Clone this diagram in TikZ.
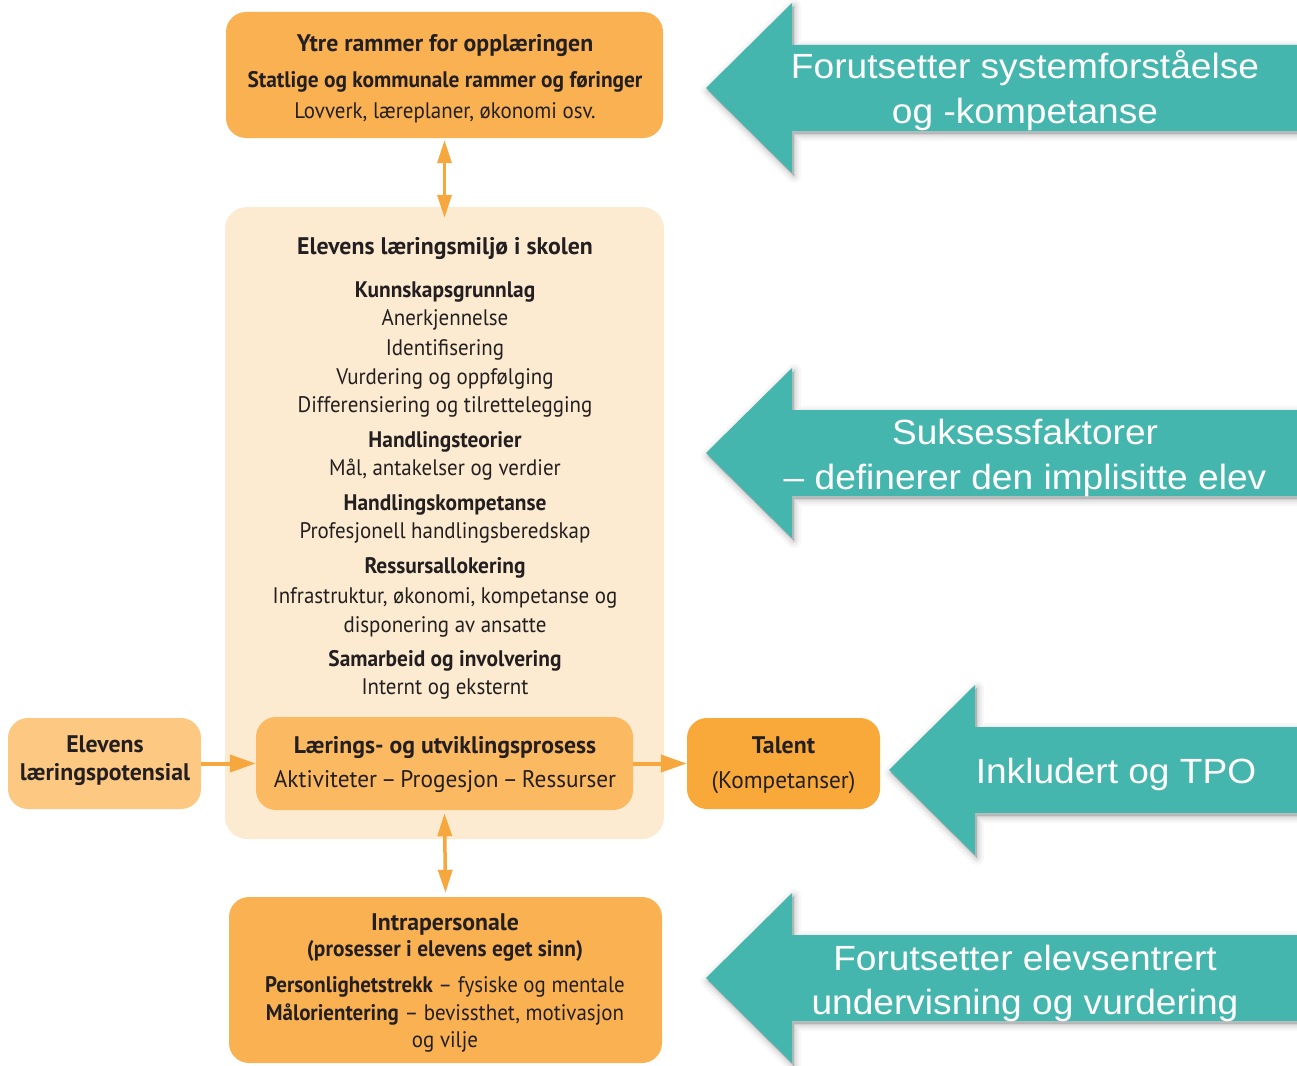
\documentclass[tikz,border=0pt]{standalone}
\usepackage{fontspec}
\setmainfont{Liberation Sans}
\newfontfamily\tealfont[FakeStretch=1.06]{Liberation Sans}
\newfontfamily\fa[FakeStretch=0.93]{PT Sans}
\newfontfamily\fb[FakeStretch=0.95]{PT Sans}
\newfontfamily\fc[FakeStretch=0.99]{PT Sans}
\newfontfamily\fd[FakeStretch=0.97]{PT Sans}
\usetikzlibrary{arrows.meta}
\definecolor{ortop}{HTML}{FAB152}
\definecolor{peach}{HTML}{FDEBD1}
\definecolor{orleft}{HTML}{FCC882}
\definecolor{orinner}{HTML}{FBB961}
\definecolor{ortalent}{HTML}{F9A93A}
\definecolor{orline}{HTML}{F6A73E}
\definecolor{tealc}{HTML}{45B6AE}
\definecolor{ink}{HTML}{231F20}
\tikzset{
  box/.style={rounded corners=20pt, inner sep=0pt, draw=none},
  ln/.style={anchor=base, inner sep=0pt, text=ink, font=\fa\fontsize{22.5}{27}\selectfont},
  hd/.style={anchor=base, inner sep=0pt, text=ink, font=\fb\bfseries\fontsize{22.5}{27}\selectfont},
  ttl/.style={anchor=base, inner sep=0pt, text=ink, font=\fc\bfseries\fontsize{24}{29}\selectfont},
  mid/.style={anchor=base, inner sep=0pt, text=ink, font=\fc\bfseries\fontsize{24}{29}\selectfont},
  midr/.style={anchor=base, inner sep=0pt, text=ink, font=\fd\fontsize{24}{29}\selectfont},
  wt/.style={anchor=base, inner sep=0pt, text=white, font=\tealfont\fontsize{35}{42}\selectfont},
  conn/.style={draw=orline, line width=4pt},
  vconn/.style={draw=orline, line width=3.5pt},
  pics/tealarrow/.style={code={
    \foreach \lw/\op in {14/0.03, 9/0.04, 5/0.05, 1/0.06}{
      \filldraw[black, opacity=\op, line width=\lw pt, line join=round, shift={(2,3)}]
        (0,0) -- (86,-85) -- (86,-43) -- (700,-43) -- (700,43) -- (86,43) -- (86,85) -- cycle;
    }
    \fill[tealc] (0,0) -- (86,-85) -- (86,-43) -- (700,-43) -- (700,43) -- (86,43) -- (86,85) -- cycle;
  }}
}
\begin{document}
\begin{tikzpicture}[x=1pt,y=-1pt]
\useasboundingbox[fill=white] (0,0) rectangle (1297,1065);

% boxes
\node[box, fill=ortop, minimum width=437pt, minimum height=126pt] (ytre) at (444.5,75) {};
\node[box, fill=peach, rounded corners=22pt, minimum width=439pt, minimum height=632pt] (env) at (444.5,523) {};
\node[box, fill=orinner, minimum width=377pt, minimum height=93pt] (proc) at (444.5,763.5) {};
\node[box, fill=orleft, minimum width=193pt, minimum height=91pt] (pot) at (104.5,763.5) {};
\node[box, fill=ortalent, minimum width=193pt, minimum height=91pt] (tal) at (783.5,763.5) {};
\node[box, fill=ortop, minimum width=433pt, minimum height=166pt] (intra) at (445.5,980) {};

% top box text
\node[ttl] (y1) at (445,52) {Ytre rammer for opplæringen};
\node[hd] (y2) at (445,87) {Statlige og kommunale rammer og føringer};
\node[ln] (y3) at (445,118) {Lovverk, læreplaner, økonomi osv.};

% environment text
\node[ttl] (e0) at (445,254) {Elevens læringsmiljø i skolen};
\node[hd] (e1) at (445,297) {Kunnskapsgrunnlag};
\node[ln] (e2) at (445,325) {Anerkjennelse};
\node[ln] (e3) at (445,355) {Identifisering};
\node[ln] (e4) at (445,384) {Vurdering og oppfølging};
\node[ln] (e5) at (445,412) {Differensiering og tilrettelegging};
\node[hd] (e6) at (445,447) {Handlingsteorier};
\node[ln] (e7) at (445,475) {Mål, antakelser og verdier};
\node[hd] (e8) at (445,510) {Handlingskompetanse};
\node[ln] (e9) at (445,538) {Profesjonell handlingsberedskap};
\node[hd] (e10) at (445,573) {Ressursallokering};
\node[ln] (e11) at (445,603) {Infrastruktur, økonomi, kompetanse og};
\node[ln] (e12) at (445,632) {disponering av ansatte};
\node[hd] (e13) at (445,666) {Samarbeid og involvering};
\node[ln] (e14) at (445,694) {Internt og eksternt};

% process, potential, talent
\node[mid] (p1) at (445,753) {Lærings- og utviklingsprosess};
\node[midr] (p2) at (445,787) {Aktiviteter\hspace{4pt}–\hspace{4pt}Progesjon\hspace{4pt}–\hspace{4pt}Ressurser};
\node[mid] (l1) at (105,752) {Elevens};
\node[mid] (l2) at (105,780) {læringspotensial};
\node[mid] (t1) at (783.5,753) {Talent};
\node[midr] (t2) at (783.5,788) {(Kompetanser)};

% intrapersonal
\node[ttl] (i1) at (445,930) {Intrapersonale};
\node[hd] (i2) at (445,956) {(prosesser i elevens eget sinn)};
\node[ln] (i3) at (445,992) {{\bfseries Personlighetstrekk} – fysiske og mentale};
\node[ln] (i4) at (445,1020) {{\bfseries Målorientering} – bevissthet, motivasjon};
\node[ln] (i5) at (445,1047) {og vilje};

% connectors
\draw[vconn, {Triangle[length=23pt,width=14pt]}-{Triangle[length=23pt,width=14pt]}]
  ([yshift=-2pt]ytre.south) -- ([yshift=-11pt]env.north);
\draw[vconn, {Triangle[length=23pt,width=14pt]}-{Triangle[length=23pt,width=14pt]}]
  ([yshift=-3pt]proc.south) -- ([yshift=4pt]intra.north);
\draw[conn, -{Triangle[length=26pt,width=17pt]}] (pot.east) -- (proc.west);
\draw[conn, -{Triangle[length=26pt,width=17pt]}] (proc.east) -- (tal.west);

% teal arrows
\pic at (706,88) {tealarrow};
\pic at (706,453) {tealarrow};
\pic at (889,770) {tealarrow};
\pic at (706,978) {tealarrow};

\node[wt] (a1) at (1025,78) {Forutsetter systemforståelse};
\node[wt] (a2) at (1025,123) {og -kompetanse};
\node[wt] (b1) at (1025,444) {Suksessfaktorer};
\node[wt] (b2) at (1025,489) {– definerer den implisitte elev};
\node[wt] (c1) at (1116,783) {Inkludert og TPO};
\node[wt] (d1) at (1025,970) {Forutsetter elevsentrert};
\node[wt] (d2) at (1025,1014) {undervisning og vurdering};
\end{tikzpicture}
\end{document}
